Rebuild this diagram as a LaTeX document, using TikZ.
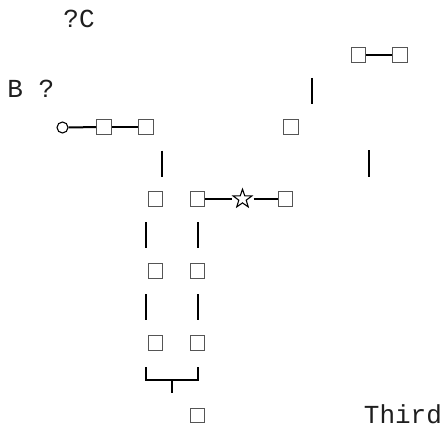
\documentclass[tikz,border=0pt]{standalone}
\usepackage{fontspec}
\setmonofont{Liberation Mono}
\usetikzlibrary{shapes.geometric}
\tikzset{
  sq/.style={draw={rgb,255:red,85;green,85;blue,85}, line width=1.3pt, rectangle, minimum size=14.5pt, inner sep=0pt, fill=white},
  ring/.style={draw=black, line width=1.1pt, circle, minimum size=11pt, inner sep=0pt},
  starhold/.style={circle, minimum size=21.6pt, inner sep=0pt, draw=none},
  starglyph/.style={draw=black, line width=1.1pt, star, star points=5, star point ratio=2.5, minimum size=19.5pt, inner sep=0pt},
  wire/.style={draw=black, line width=2pt},
  txt/.style={font=\ttfamily\fontsize{26}{26}\selectfont, anchor=base west, inner sep=0pt, text={rgb,255:red,30;green,30;blue,30}}
}
\begin{document}
\begin{tikzpicture}[x=1pt,y=-1pt]
\useasboundingbox (0,0) rectangle (445,428);
% texts
\node[txt] (tqc) at (63.2,28) {?C};
\node[txt] (tbq) at (7.2,98) {B ?};
\node[txt] (tth) at (363.7,423) {Third};
% top right pair
\node[sq] (tr1) at (358.5,55) {};
\node[sq] (tr2) at (400,55) {};
\draw[wire] (tr1) -- (tr2);
% middle single
\node[sq] (m1) at (291,127) {};
% circle row
\node[ring] (c1) at (62.5,127.5) {};
\node[sq] (a1) at (104,127) {};
\node[sq] (a2) at (146,127) {};
\draw[wire] (c1) -- (a1);
\draw[wire] (a1) -- (a2);
% star row
\node[sq] (l1) at (155.5,199) {};
\node[sq] (r1) at (197.5,199) {};
\node[starhold] (st) at (242.5,199) {};
\node[starglyph] (stg) at (st) {};
\node[sq] (e1) at (285.5,199) {};
\draw[wire] (r1) -- (st);
\draw[wire] (st) -- (e1);
% columns
\node[sq] (l2) at (155.5,271) {};
\node[sq] (r2) at (197.5,271) {};
\node[sq] (l3) at (155.5,343) {};
\node[sq] (r3) at (197.5,343) {};
\node[sq] (bt) at (197.5,415.5) {};
% free vertical strokes
\draw[wire] (311.7,78) -- (311.7,104);
\draw[wire] (369,150) -- (369,176.5);
\draw[wire] (161.7,150.5) -- (161.7,176.5);
\draw[wire] (145.7,222) -- (145.7,248);
\draw[wire] (197.7,222) -- (197.7,248);
\draw[wire] (145.7,294) -- (145.7,320);
\draw[wire] (197.7,294) -- (197.7,320);
% bracket
\draw[wire] (145.7,367) -- (145.7,380) -- (197.7,380) -- (197.7,367);
\draw[wire] (171.7,380) -- (171.7,393);
\end{tikzpicture}
\end{document}
